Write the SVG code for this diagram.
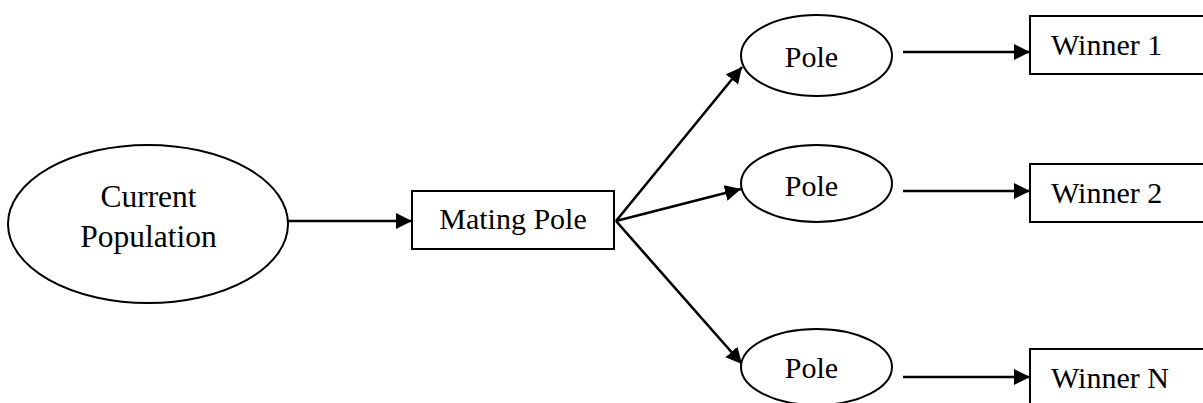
<svg xmlns="http://www.w3.org/2000/svg" width="1203" height="403" viewBox="0 0 1203 403">
  <style>
    .shape { fill: #ffffff; stroke: #000000; stroke-width: 2; }
    .label { font-family: "Liberation Serif", "Times New Roman", serif; font-size: 30px; fill: #000000; }
    .big { font-size: 31.5px; }
    .mid { text-anchor: middle; }
    .edge { stroke: #000000; stroke-width: 2.6; fill: none; marker-end: url(#arrow); }
  </style>
  <defs>
    <marker id="arrow" markerUnits="userSpaceOnUse" markerWidth="17" markerHeight="17" refX="16" refY="8" orient="auto">
      <path d="M0,0 L16,8 L0,16 z" fill="#000000"/>
    </marker>
  </defs>
  <rect x="0" y="0" width="1203" height="403" fill="#ffffff"/>

  <g id="connectors">
    <line class="edge" x1="287" y1="221" x2="412" y2="221"/>
    <line class="edge" x1="616" y1="221" x2="742" y2="67"/>
    <line class="edge" x1="616" y1="221" x2="741" y2="189"/>
    <line class="edge" x1="616" y1="221" x2="742" y2="364"/>
    <line class="edge" x1="903" y1="52" x2="1030" y2="52"/>
    <line class="edge" x1="903" y1="191" x2="1030" y2="191"/>
    <line class="edge" x1="903" y1="377" x2="1030" y2="377"/>
  </g>

  <g id="current-population">
    <ellipse class="shape" cx="148" cy="224" rx="140" ry="79"/>
    <text class="label big mid" x="148.5" y="207">Current</text>
    <text class="label big mid" x="148.5" y="247">Population</text>
  </g>

  <g id="mating-pole">
    <rect class="shape" x="412" y="191" width="202" height="58"/>
    <text class="label mid" x="513" y="229">Mating Pole</text>
  </g>

  <g id="pole-1">
    <ellipse class="shape" cx="816.5" cy="55.5" rx="75.5" ry="40.5"/>
    <text class="label mid" x="811.5" y="67">Pole</text>
  </g>

  <g id="pole-2">
    <ellipse class="shape" cx="816.5" cy="183.5" rx="75.5" ry="38.5"/>
    <text class="label mid" x="811.5" y="196">Pole</text>
  </g>

  <g id="pole-n">
    <ellipse class="shape" cx="816.5" cy="367" rx="75.5" ry="38"/>
    <text class="label mid" x="811.5" y="378">Pole</text>
  </g>

  <g id="winner-1">
    <rect class="shape" x="1030" y="16" width="190" height="58"/>
    <text class="label" x="1051" y="55">Winner 1</text>
  </g>

  <g id="winner-2">
    <rect class="shape" x="1030" y="164" width="190" height="58"/>
    <text class="label" x="1051" y="203">Winner 2</text>
  </g>

  <g id="winner-n">
    <rect class="shape" x="1030" y="349" width="190" height="70"/>
    <text class="label" x="1051" y="388">Winner N</text>
  </g>
</svg>
